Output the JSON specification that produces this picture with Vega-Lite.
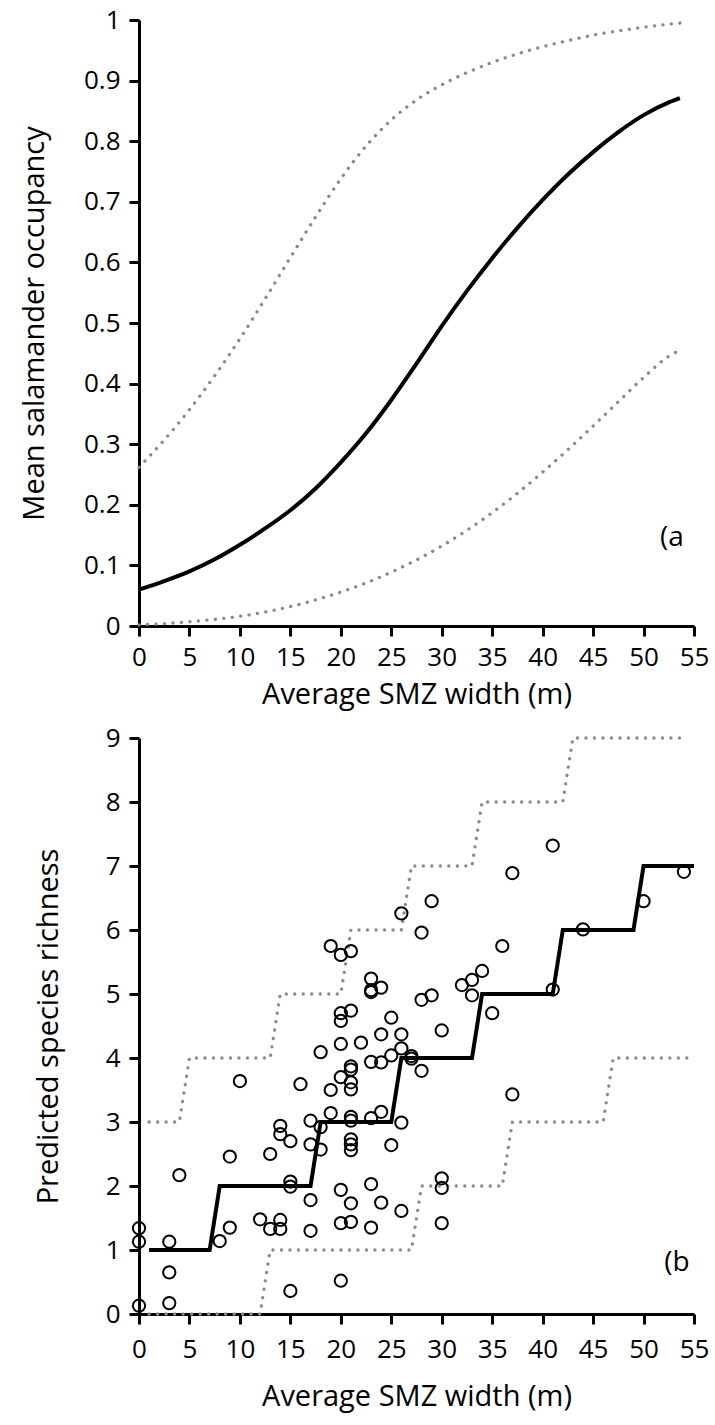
{
  "$schema": "https://vega.github.io/schema/vega-lite/v6.json",
  "padding": {"left": 20, "top": 7, "right": 5, "bottom": 5},
  "spacing": 16,
  "config": {
    "view": {"stroke": null},
    "font": "Open Sans",
    "axis": {
      "domainColor": "black", "domainWidth": 3,
      "tickColor": "black", "tickWidth": 3, "tickSize": 10,
      "labelColor": "black", "labelFontSize": 26, "labelFont": "Open Sans",
      "titleColor": "black", "titleFontSize": 29, "titleFont": "Open Sans", "titleFontWeight": "normal",
      "grid": false, "labelOverlap": false, "labelFlush": false, "labelPadding": 9
    }
  },
  "datasets": {
    "occ": [
      {"x": 0, "mean": 0.060, "upper": 0.262, "lower": 0.002},
      {"x": 2.5, "mean": 0.074, "upper": 0.307, "lower": 0.004},
      {"x": 5, "mean": 0.090, "upper": 0.357, "lower": 0.007},
      {"x": 7.5, "mean": 0.110, "upper": 0.413, "lower": 0.011},
      {"x": 10, "mean": 0.134, "upper": 0.474, "lower": 0.016},
      {"x": 12.5, "mean": 0.161, "upper": 0.540, "lower": 0.023},
      {"x": 15, "mean": 0.191, "upper": 0.608, "lower": 0.032},
      {"x": 17.5, "mean": 0.227, "upper": 0.675, "lower": 0.043},
      {"x": 20, "mean": 0.270, "upper": 0.738, "lower": 0.056},
      {"x": 22.5, "mean": 0.318, "upper": 0.792, "lower": 0.071},
      {"x": 25, "mean": 0.373, "upper": 0.835, "lower": 0.089},
      {"x": 27.5, "mean": 0.433, "upper": 0.868, "lower": 0.109},
      {"x": 30, "mean": 0.495, "upper": 0.893, "lower": 0.132},
      {"x": 32.5, "mean": 0.553, "upper": 0.913, "lower": 0.158},
      {"x": 35, "mean": 0.607, "upper": 0.930, "lower": 0.187},
      {"x": 37.5, "mean": 0.657, "upper": 0.944, "lower": 0.219},
      {"x": 40, "mean": 0.703, "upper": 0.956, "lower": 0.254},
      {"x": 42.5, "mean": 0.745, "upper": 0.966, "lower": 0.291},
      {"x": 45, "mean": 0.782, "upper": 0.975, "lower": 0.330},
      {"x": 47.5, "mean": 0.815, "upper": 0.982, "lower": 0.370},
      {"x": 50, "mean": 0.843, "upper": 0.988, "lower": 0.410},
      {"x": 52.5, "mean": 0.864, "upper": 0.993, "lower": 0.445},
      {"x": 53.6, "mean": 0.871, "upper": 0.995, "lower": 0.455}
    ],
    "stepMean": [
      {"x": 1, "y": 1}, {"x": 7, "y": 1}, {"x": 8, "y": 2}, {"x": 17, "y": 2},
      {"x": 18, "y": 3}, {"x": 25, "y": 3}, {"x": 26, "y": 4}, {"x": 33, "y": 4},
      {"x": 34, "y": 5}, {"x": 41, "y": 5}, {"x": 42, "y": 6}, {"x": 49, "y": 6},
      {"x": 50, "y": 7}, {"x": 55, "y": 7}
    ],
    "stepUpper": [
      {"x": 1, "y": 3}, {"x": 4, "y": 3}, {"x": 5, "y": 4}, {"x": 13, "y": 4},
      {"x": 14, "y": 5}, {"x": 20, "y": 5}, {"x": 21, "y": 6}, {"x": 26, "y": 6},
      {"x": 27, "y": 7}, {"x": 33, "y": 7}, {"x": 34, "y": 8}, {"x": 42, "y": 8},
      {"x": 43, "y": 9}, {"x": 54, "y": 9}
    ],
    "stepLower": [
      {"x": 1, "y": 0}, {"x": 12, "y": 0}, {"x": 13, "y": 1}, {"x": 27, "y": 1},
      {"x": 28, "y": 2}, {"x": 36, "y": 2}, {"x": 37, "y": 3}, {"x": 46, "y": 3},
      {"x": 47, "y": 4}, {"x": 55, "y": 4}
    ],
    "sites": [
      {"x": 0, "y": 1.34}, {"x": 0, "y": 1.13}, {"x": 0, "y": 0.13},
      {"x": 3, "y": 1.13}, {"x": 3, "y": 0.65}, {"x": 3, "y": 0.17},
      {"x": 4, "y": 2.17}, {"x": 8, "y": 1.14},
      {"x": 9, "y": 2.46}, {"x": 9, "y": 1.35}, {"x": 10, "y": 3.64},
      {"x": 12, "y": 1.48}, {"x": 13, "y": 2.5}, {"x": 13, "y": 1.33},
      {"x": 14, "y": 2.94}, {"x": 14, "y": 2.81}, {"x": 14, "y": 1.47}, {"x": 14, "y": 1.33},
      {"x": 15, "y": 2.7}, {"x": 15, "y": 2.07}, {"x": 15, "y": 1.99}, {"x": 15, "y": 0.36},
      {"x": 16, "y": 3.59},
      {"x": 17, "y": 3.02}, {"x": 17, "y": 2.65}, {"x": 17, "y": 1.78}, {"x": 17, "y": 1.3},
      {"x": 18, "y": 4.09}, {"x": 18, "y": 2.92}, {"x": 18, "y": 2.57},
      {"x": 19, "y": 5.75}, {"x": 19, "y": 3.5}, {"x": 19, "y": 3.14},
      {"x": 20, "y": 5.61}, {"x": 20, "y": 4.7}, {"x": 20, "y": 4.58}, {"x": 20, "y": 4.22}, {"x": 20, "y": 3.7}, {"x": 20, "y": 1.94}, {"x": 20, "y": 1.42}, {"x": 20, "y": 0.52},
      {"x": 21, "y": 5.67}, {"x": 21, "y": 4.74}, {"x": 21, "y": 3.87}, {"x": 21, "y": 3.82}, {"x": 21, "y": 3.62}, {"x": 21, "y": 3.51}, {"x": 21, "y": 3.08}, {"x": 21, "y": 3.02}, {"x": 21, "y": 2.73}, {"x": 21, "y": 2.65}, {"x": 21, "y": 2.56}, {"x": 21, "y": 1.73}, {"x": 21, "y": 1.44},
      {"x": 22, "y": 4.24},
      {"x": 23, "y": 5.24}, {"x": 23, "y": 5.06}, {"x": 23, "y": 5.03}, {"x": 23, "y": 3.94}, {"x": 23, "y": 3.06}, {"x": 23, "y": 2.03}, {"x": 23, "y": 1.35},
      {"x": 24, "y": 5.1}, {"x": 24, "y": 4.37}, {"x": 24, "y": 3.93}, {"x": 24, "y": 3.16}, {"x": 24, "y": 1.74},
      {"x": 25, "y": 4.63}, {"x": 25, "y": 4.04}, {"x": 25, "y": 2.64},
      {"x": 26, "y": 6.26}, {"x": 26, "y": 4.37}, {"x": 26, "y": 4.15}, {"x": 26, "y": 2.99}, {"x": 26, "y": 1.61},
      {"x": 27, "y": 4.03}, {"x": 27, "y": 3.99},
      {"x": 28, "y": 5.96}, {"x": 28, "y": 4.91}, {"x": 28, "y": 3.8},
      {"x": 29, "y": 6.45}, {"x": 29, "y": 4.98},
      {"x": 30, "y": 4.43}, {"x": 30, "y": 2.12}, {"x": 30, "y": 1.97}, {"x": 30, "y": 1.42},
      {"x": 32, "y": 5.14}, {"x": 33, "y": 5.22}, {"x": 33, "y": 4.98},
      {"x": 34, "y": 5.36}, {"x": 35, "y": 4.7}, {"x": 36, "y": 5.75},
      {"x": 37, "y": 6.89}, {"x": 37, "y": 3.43},
      {"x": 41, "y": 7.32}, {"x": 41, "y": 5.07},
      {"x": 44, "y": 6.01}, {"x": 50, "y": 6.45}, {"x": 54, "y": 6.91}
    ]
  },
  "vconcat": [
    {
      "width": 555,
      "height": 606,
      "encoding": {
        "x": {
          "field": "x", "type": "quantitative",
          "scale": {"domain": [0, 55], "nice": false, "zero": false},
          "axis": {"values": [0, 5, 10, 15, 20, 25, 30, 35, 40, 45, 50, 55], "title": "Average SMZ width (m)", "labelPadding": 8, "titlePadding": 10}
        }
      },
      "layer": [
        {
          "data": {"name": "occ"},
          "mark": {"type": "line", "stroke": "#8a8a8a", "strokeWidth": 3.3, "strokeDash": [0.1, 8.4], "strokeCap": "round", "interpolate": "monotone"},
          "encoding": {
            "y": {
              "field": "upper", "type": "quantitative",
              "scale": {"domain": [0, 1], "nice": false},
              "axis": {"values": [0, 0.1, 0.2, 0.3, 0.4, 0.5, 0.6, 0.7, 0.8, 0.9, 1], "format": "~g", "title": "Mean salamander occupancy", "titlePadding": 34}
            }
          }
        },
        {
          "data": {"name": "occ"},
          "mark": {"type": "line", "stroke": "#8a8a8a", "strokeWidth": 3.3, "strokeDash": [0.1, 8.4], "strokeCap": "round", "interpolate": "monotone"},
          "encoding": {"y": {"field": "lower", "type": "quantitative"}}
        },
        {
          "data": {"name": "occ"},
          "mark": {"type": "line", "stroke": "black", "strokeWidth": 4, "interpolate": "monotone"},
          "encoding": {"y": {"field": "mean", "type": "quantitative"}}
        },
        {
          "data": {"name": "occ"},
          "transform": [{"filter": "datum.x == 0"}],
          "mark": {"type": "text", "fontSize": 28, "font": "Open Sans", "color": "black", "align": "center", "baseline": "middle"},
          "encoding": {"x": {"datum": 52.8}, "y": {"datum": 0.145}, "text": {"value": "(a"}}
        }
      ]
    },
    {
      "width": 555,
      "height": 576,
      "encoding": {
        "x": {
          "field": "x", "type": "quantitative",
          "scale": {"domain": [0, 55], "nice": false, "zero": false},
          "axis": {"values": [0, 5, 10, 15, 20, 25, 30, 35, 40, 45, 50, 55], "title": "Average SMZ width (m)", "labelPadding": 12, "titlePadding": 20}
        },
        "y": {
          "field": "y", "type": "quantitative",
          "scale": {"domain": [0, 9], "nice": false},
          "axis": {"values": [0, 1, 2, 3, 4, 5, 6, 7, 8, 9], "title": "Predicted species richness", "titlePadding": 42}
        }
      },
      "layer": [
        {
          "data": {"name": "stepUpper"},
          "mark": {"type": "line", "stroke": "#8a8a8a", "strokeWidth": 3.3, "strokeDash": [0.1, 8.4], "strokeCap": "round"}
        },
        {
          "data": {"name": "stepLower"},
          "mark": {"type": "line", "stroke": "#8a8a8a", "strokeWidth": 3.3, "strokeDash": [0.1, 8.4], "strokeCap": "round"}
        },
        {
          "data": {"name": "stepMean"},
          "mark": {"type": "line", "stroke": "black", "strokeWidth": 4}
        },
        {
          "data": {"name": "sites"},
          "mark": {"type": "point", "shape": "circle", "filled": false, "stroke": "black", "strokeWidth": 2, "size": 150, "opacity": 1}
        },
        {
          "data": {"name": "stepMean"},
          "transform": [{"filter": "datum.x == 55"}],
          "mark": {"type": "text", "fontSize": 28, "font": "Open Sans", "color": "black", "align": "center", "baseline": "middle"},
          "encoding": {"x": {"datum": 53.3}, "y": {"datum": 0.8}, "text": {"value": "(b"}}
        }
      ]
    }
  ]
}
